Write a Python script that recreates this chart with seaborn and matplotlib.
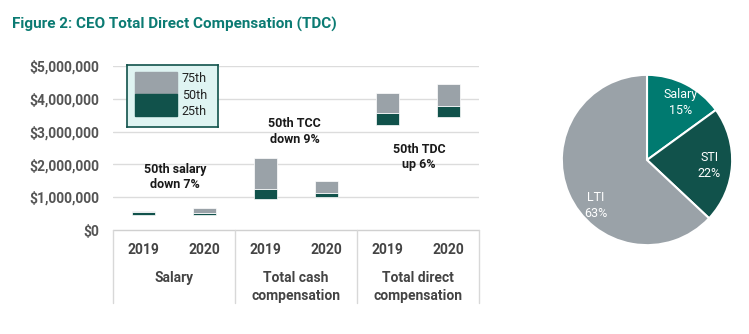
import matplotlib
matplotlib.use("Agg")
import matplotlib.pyplot as plt
import matplotlib.transforms as mtransforms
from matplotlib.patches import Rectangle
import seaborn as sns
import numpy as np

sns.set_theme(style="white")
plt.rcParams['font.family'] = ['Roboto', 'DejaVu Sans']

# data ($M)
bars = ["Salary 2019", "Salary 2020", "TCC 2019", "TCC 2020", "TDC 2019", "TDC 2020"]
years = ["2019", "2020", "2019", "2020", "2019", "2020"]
groups = ["Salary", "Total cash\ncompensation", "Total direct\ncompensation"]
p25 = [0.46, 0.46, 0.94, 1.02, 3.20, 3.45]
p50 = [0.56, 0.52, 1.25, 1.14, 3.57, 3.78]
p75 = [0.58, 0.68, 2.20, 1.49, 4.17, 4.45]
notes = ["50th salary\ndown 7%", "50th TCC\ndown 9%", "50th TDC\nup 6%"]
note_x = [0.52, 2.48, 4.52]
note_y = [1.62, 3.0, 2.23]

pie_labels = ["Salary", "STI", "LTI"]
pie_pct = [15, 22, 63]

GRAY = "#9aa2a8"
DARK = "#11524b"
TEAL = "#007a70"
TXT = "#555555"

p25 = np.array(p25) * 1e6
p50 = np.array(p50) * 1e6
p75 = np.array(p75) * 1e6

fig = plt.figure(figsize=(7.49, 3.34), dpi=100)
fig.text(12 / 749, 1 - 24 / 334, "Figure 2: CEO Total Direct Compensation (TDC)",
         color="#0b7b73", fontsize=11, fontweight="bold", va="center", ha="left")

ax = fig.add_axes([113 / 749, 1 - 230 / 334, 366 / 749, 164 / 334])
for y in range(1, 6):
    ax.axhline(y * 1e6, color="#dcdcdc", lw=1, zorder=0)

sns.barplot(x=bars, y=p50 - p25, bottom=p25, color=DARK, width=0.39,
            edgecolor="white", linewidth=0.5, saturation=1, ax=ax, zorder=3)
sns.barplot(x=bars, y=p75 - p50, bottom=p50, color=GRAY, width=0.39,
            edgecolor="white", linewidth=0.5, saturation=1, ax=ax, zorder=3)

ax.set_xlim(-0.5, 5.5)
ax.set_ylim(0, 5e6)
ax.set_yticks(np.arange(0, 6) * 1e6)
ax.set_yticklabels(["$0"] + ["${:,.0f}".format(v * 1e6) for v in range(1, 6)])
ax.set_xticks(range(6))
ax.set_xticklabels(years)
ax.tick_params(axis="both", length=0)
ax.tick_params(axis="y", pad=10, labelsize=10, labelcolor=TXT)
ax.tick_params(axis="x", pad=9, labelsize=10, labelcolor="#444444")
for lab in ax.get_xticklabels() + ax.get_yticklabels():
    lab.set_fontweight("bold")
ax.set_xlabel("")
ax.set_ylabel("")
for s in ax.spines.values():
    s.set_visible(False)

# table below the bars
trans = mtransforms.blended_transform_factory(ax.transData, ax.transAxes)
ax.plot([-0.5, 5.5], [0, 0], transform=trans, color="#d0d0d0", lw=1, clip_on=False)
for xv in [-0.5, 1.5, 3.5, 5.5]:
    ax.plot([xv, xv], [0, -0.445], transform=trans, color="#d8d8d8", lw=1, clip_on=False)
for i, g in enumerate(groups):
    yy = -0.293 if "\n" not in g else -0.348
    ax.text(2 * i + 0.5, yy, g, transform=trans, ha="center", va="center",
            fontsize=10, fontweight="bold", color="#444444", linespacing=1.3)

for t, xv, yv in zip(notes, note_x, note_y):
    ax.text(xv, yv * 1e6, t, ha="center", va="center", fontsize=9,
            fontweight="bold", color="#1a1a1a", linespacing=1.25, zorder=5)

# legend box
lax = fig.add_axes([127 / 749, 1 - 127 / 334, 91 / 749, 62 / 334])
lax.set_facecolor("#dff4f2")
lax.set_xlim(0, 1)
lax.set_ylim(0, 1)
lax.set_xticks([])
lax.set_yticks([])
for s in lax.spines.values():
    s.set_color(DARK)
    s.set_linewidth(1.2)
lax.add_patch(Rectangle((0.088, 0.532), 0.46, 0.355, color=GRAY))
lax.add_patch(Rectangle((0.088, 0.177), 0.46, 0.355, color=DARK))
for t, yv in zip(["75th", "50th", "25th"], [0.79, 0.516, 0.258]):
    lax.text(0.60, yv, t, fontsize=9, color="#222222", va="center", ha="left")

# pie
pax = fig.add_axes([(647 - 86) / 749, (334 - 160 - 86) / 334, 172 / 749, 172 / 334])
wedges, texts = pax.pie(pie_pct, colors=[TEAL, DARK, GRAY], startangle=90, counterclock=False,
                        labels=[f"{l}\n{p}%" for l, p in zip(pie_labels, pie_pct)],
                        labeldistance=0.76,
                        wedgeprops=dict(edgecolor="white", linewidth=1.5),
                        textprops=dict(color="white", fontsize=9, ha="center", va="center",
                                       linespacing=1.3))
texts[0].set_position((0.40, 0.68))
texts[1].set_position((0.73, -0.07))
texts[2].set_position((-0.6, -0.53))
pax.set_xlim(-1.01, 1.01)
pax.set_ylim(-1.01, 1.01)
pax.set_aspect("equal")

fig.savefig("out.png", dpi=100)
